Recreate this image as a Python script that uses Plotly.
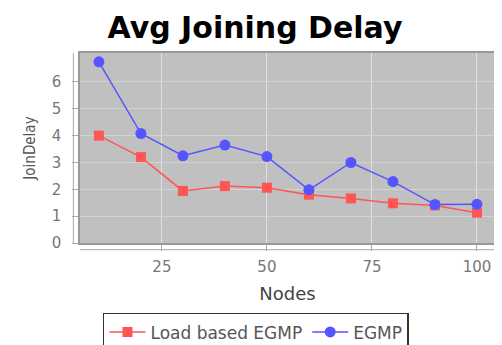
import plotly.graph_objects as go

nodes = [10, 20, 30, 40, 50, 60, 70, 80, 90, 100]
load_based_egmp = [4.0, 3.2, 1.94, 2.12, 2.06, 1.8, 1.66, 1.48, 1.4, 1.13]
egmp = [6.75, 4.08, 3.25, 3.65, 3.22, 1.98, 3.0, 2.29, 1.43, 1.44]

fig = go.Figure()
fig.add_trace(go.Scatter(x=nodes, y=load_based_egmp, name="Load based EGMP", mode="lines+markers",
                         line=dict(color="#ff5555", width=1.5),
                         marker=dict(symbol="square", size=10, color="#ff5555")))
fig.add_trace(go.Scatter(x=nodes, y=egmp, name="EGMP", mode="lines+markers",
                         line=dict(color="#5555ff", width=1.5),
                         marker=dict(symbol="circle", size=11, color="#5555ff")))

# page body has an 8px margin, so the figure is 8px smaller and margins shifted
fig.update_layout(
    width=494, height=337,
    margin=dict(l=72, r=7, t=45, b=102, autoexpand=False),
    paper_bgcolor="white", plot_bgcolor="#c0c0c0",
    title=dict(text="<b>Avg Joining Delay</b>", x=0.5, xanchor="center", xref="container",
               y=1 - 19 / 337, yref="container", yanchor="middle",
               font=dict(family="DejaVu Sans", size=30, color="black")),
    showlegend=True,
    legend=dict(orientation="h", x=0.424, xanchor="center", y=-0.368, yanchor="top",
                bordercolor="#333333", borderwidth=1.5,
                font=dict(family="DejaVu Sans", size=17, color="#555555"),
                itemwidth=36, tracegroupgap=0),
    font=dict(family="DejaVu Sans", color="#666666"),
    shapes=[
        dict(type="line", xref="paper", yref="paper", x0=-0.016, x1=-0.016, y0=0, y1=1,
             line=dict(color="#aaaaaa", width=1)),
        dict(type="line", xref="paper", yref="paper", x0=0, x1=1, y0=-0.035, y1=-0.035,
             line=dict(color="#aaaaaa", width=1)),
    ],
)
fig.update_xaxes(range=[5.5, 104.3], tickvals=[25, 50, 75, 100], showgrid=True, gridcolor="#e0e0e0",
                 gridwidth=1, zeroline=False, showline=True, linecolor="#999999", linewidth=1.5, mirror=True,
                 ticks="outside", ticklen=6, tickcolor="#aaaaaa", ticklabelstandoff=3,
                 tickfont=dict(size=15, color="#777777"), automargin=False,
                 title=dict(text="Nodes", font=dict(size=18, color="#444444"), standoff=13))
fig.update_yaxes(range=[0, 7.08], tickvals=[0, 1, 2, 3, 4, 5, 6], showgrid=True, gridcolor="#d2d2d2",
                 gridwidth=1, zeroline=False, showline=True, linecolor="#999999", linewidth=1.5, mirror=True,
                 ticks="outside", ticklen=6, tickcolor="#aaaaaa", ticklabelstandoff=8,
                 tickfont=dict(size=15, color="#777777"), automargin=False,
                 title=dict(text="JoinDelay", font=dict(family="DejaVu Sans Condensed, DejaVu Sans", size=15, color="#555555"), standoff=12))

fig.write_html("out.html")
